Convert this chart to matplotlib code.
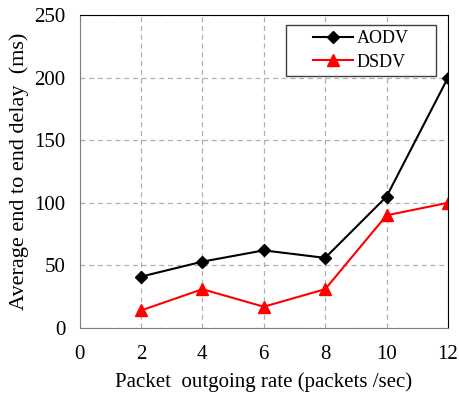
import matplotlib
matplotlib.use("Agg")
import matplotlib.pyplot as plt
from matplotlib.patches import Rectangle

rates = [2, 4, 6, 8, 10, 12]
aodv = [41, 53, 62, 56, 105, 200]
dsdv = [14, 31, 17, 31, 90, 100]
xticks = [0, 2, 4, 6, 8, 10, 12]
yticks = [0, 50, 100, 150, 200, 250]

plt.rcParams['font.family'] = ['Liberation Serif', 'DejaVu Serif']

fig = plt.figure(figsize=(4.59, 3.98), dpi=100)
ax = fig.add_axes([79.5/459, 1 - 328/398, (448-79.5)/459, (328-15)/398])

ax.plot(rates, aodv, color='black', marker='D', markersize=6, linewidth=1.5, label='AODV')
ax.plot(rates, dsdv, color='red', marker='^', markersize=9, linewidth=1.5, label='DSDV')

ax.set_xlim(0, 12)
ax.set_ylim(0, 250)
ax.set_xticks(xticks)
ax.set_yticks(yticks)
ax.tick_params(axis='both', length=0, labelsize=15)
ax.tick_params(axis='x', pad=12)
ax.tick_params(axis='y', pad=10)
ax.grid(True, linestyle=(0, (4, 3)), color='#b0b0b0', linewidth=0.9)
ax.set_axisbelow(True)
for s in ['left', 'bottom']:
    ax.spines[s].set_color('#808080')
for s in ['top', 'right']:
    ax.spines[s].set_color('black')

ax.set_xlabel('Packet  outgoing rate (packets /sec)', fontsize=15, labelpad=6)
ax.set_ylabel('Average end to end delay  (ms)', fontsize=16, labelpad=4)

box = Rectangle((0.560, 0.805), 0.407, 0.163, transform=ax.transAxes,
                facecolor='white', edgecolor='#404040', linewidth=1.0, zorder=4)
ax.add_patch(box)

leg = ax.legend(loc='center', bbox_to_anchor=(0.764, 0.887), fontsize=13,
                frameon=False, handlelength=2.2, borderpad=0, borderaxespad=0,
                labelspacing=0.35, handletextpad=0.2)
leg.set_zorder(5)

fig.savefig('out.png', dpi=100)
